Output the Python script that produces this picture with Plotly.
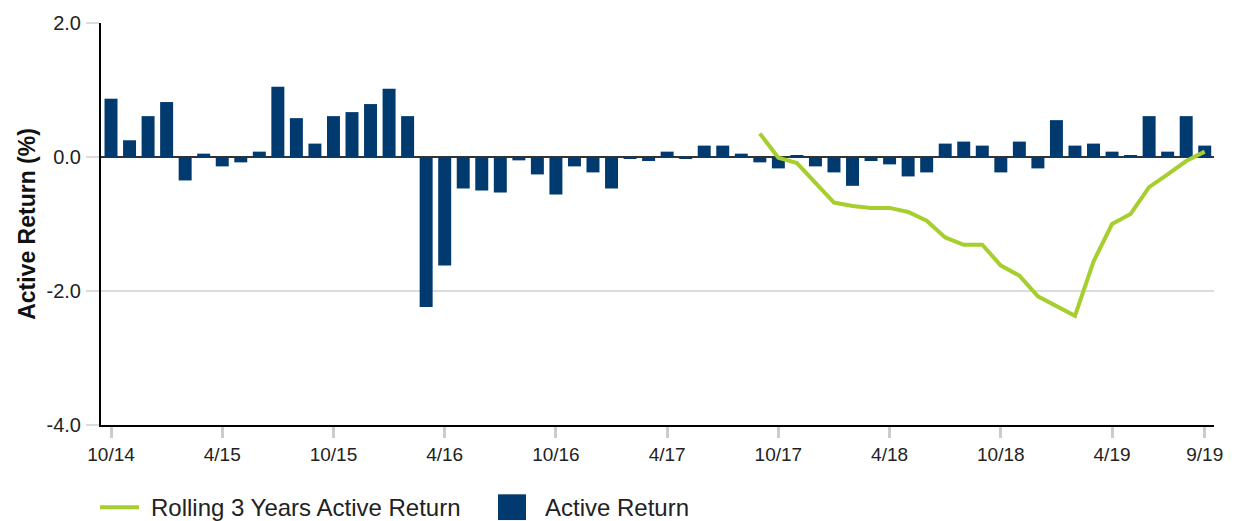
import pandas as pd
import plotly.graph_objects as go

# Monthly axis labels, Oct 2014 .. Sep 2019
months = [f"{d.month}/{d.strftime('%y')}" for d in pd.date_range("2014-10-01", "2019-09-01", freq="MS")]

# Monthly active return (%)
active_return = [
    0.87, 0.25, 0.61, 0.82, -0.35, 0.05, -0.14, -0.08, 0.08, 1.05,
    0.58, 0.20, 0.61, 0.67, 0.79, 1.02, 0.61, -2.24, -1.62, -0.47,
    -0.50, -0.53, -0.05, -0.26, -0.56, -0.14, -0.23, -0.47, -0.02, -0.06,
    0.08, -0.02, 0.17, 0.17, 0.05, -0.08, -0.17, 0.02, -0.14, -0.23,
    -0.43, -0.06, -0.11, -0.29, -0.23, 0.20, 0.23, 0.17, -0.23, 0.23,
    -0.17, 0.55, 0.17, 0.20, 0.08, 0.02, 0.61, 0.08, 0.61, 0.17,
]

# Rolling 3-year active return, available from 9/17 onward
rolling_3y = [
    0.35, -0.01, -0.09, -0.38, -0.68, -0.73, -0.76, -0.76, -0.82, -0.95,
    -1.20, -1.31, -1.31, -1.62, -1.77, -2.08, -2.23, -2.37, -1.56, -1.00,
    -0.85, -0.45, -0.26, -0.06, 0.08,
]
rolling_series = [None] * (len(months) - len(rolling_3y)) + rolling_3y

tick_labels = ["10/14", "4/15", "10/15", "4/16", "10/16", "4/17",
               "10/17", "4/18", "10/18", "4/19", "9/19"]
y_ticks = [-4, -2, 0, 2]

BAR_COLOR = "#003A6E"
LINE_COLOR = "#A6CE2E"
FONT = "Arial, Liberation Sans, sans-serif"

fig = go.Figure()
fig.add_trace(go.Bar(
    x=months, y=active_return, name="Active Return",
    marker=dict(color=BAR_COLOR, line=dict(width=0)), width=0.7,
    showlegend=False,
))
fig.add_trace(go.Scatter(
    x=months, y=rolling_series, name="Rolling 3 Years Active Return",
    mode="lines", line=dict(color=LINE_COLOR, width=4),
    connectgaps=False, showlegend=False,
))

fig.update_layout(
    width=1242, height=521,
    margin=dict(l=101, r=28, t=19, b=96),
    paper_bgcolor="white", plot_bgcolor="white",
    font=dict(family=FONT, size=20, color="#222222"),
    bargap=0.3,
)
fig.update_xaxes(
    type="category", categoryorder="array", categoryarray=months,
    range=[-0.54, 59.5],
    tickmode="array", tickvals=tick_labels, ticktext=tick_labels,
    ticks="outside", ticklen=11, tickwidth=3, tickcolor="#C9CDD2",
    showgrid=False, showline=True, linecolor="black", linewidth=2,
    tickfont=dict(size=19), ticklabelstandoff=0,
)
fig.update_yaxes(
    range=[-4, 2], tickmode="array", tickvals=y_ticks,
    ticktext=[f"{v:.1f}" for v in y_ticks],
    ticks="outside", ticklen=13, tickwidth=2, tickcolor="#DCDCDC",
    showgrid=True, gridcolor="#DCDCDC", gridwidth=2,
    zeroline=True, zerolinecolor="#333333", zerolinewidth=2,
    showline=True, linecolor="black", linewidth=2,
    tickfont=dict(size=20), ticklabelstandoff=1,
    title=dict(text="<b>Active Return (%)</b>", font=dict(size=23, color="#111111"), standoff=4),
)

# Legend drawn below the plot area
def xp(px):
    return (px - 101) / 1113

def yp(py):
    return (425 - py) / 406

legend_y = yp(508)
fig.add_shape(type="line", xref="paper", yref="paper",
              x0=xp(100), x1=xp(139), y0=legend_y, y1=legend_y,
              line=dict(color=LINE_COLOR, width=4))
fig.add_annotation(xref="paper", yref="paper", x=xp(149), y=legend_y,
                   xanchor="left", yanchor="middle", showarrow=False,
                   text="Rolling 3 Years Active Return",
                   font=dict(size=24, color="#222222"))
fig.add_shape(type="rect", xref="paper", yref="paper",
              x0=xp(498), x1=xp(526), y0=yp(495), y1=yp(521),
              fillcolor=BAR_COLOR, line=dict(width=0))
fig.add_annotation(xref="paper", yref="paper", x=xp(543), y=legend_y,
                   xanchor="left", yanchor="middle", showarrow=False,
                   text="Active Return",
                   font=dict(size=24, color="#222222"))

fig.write_html("out.html")
